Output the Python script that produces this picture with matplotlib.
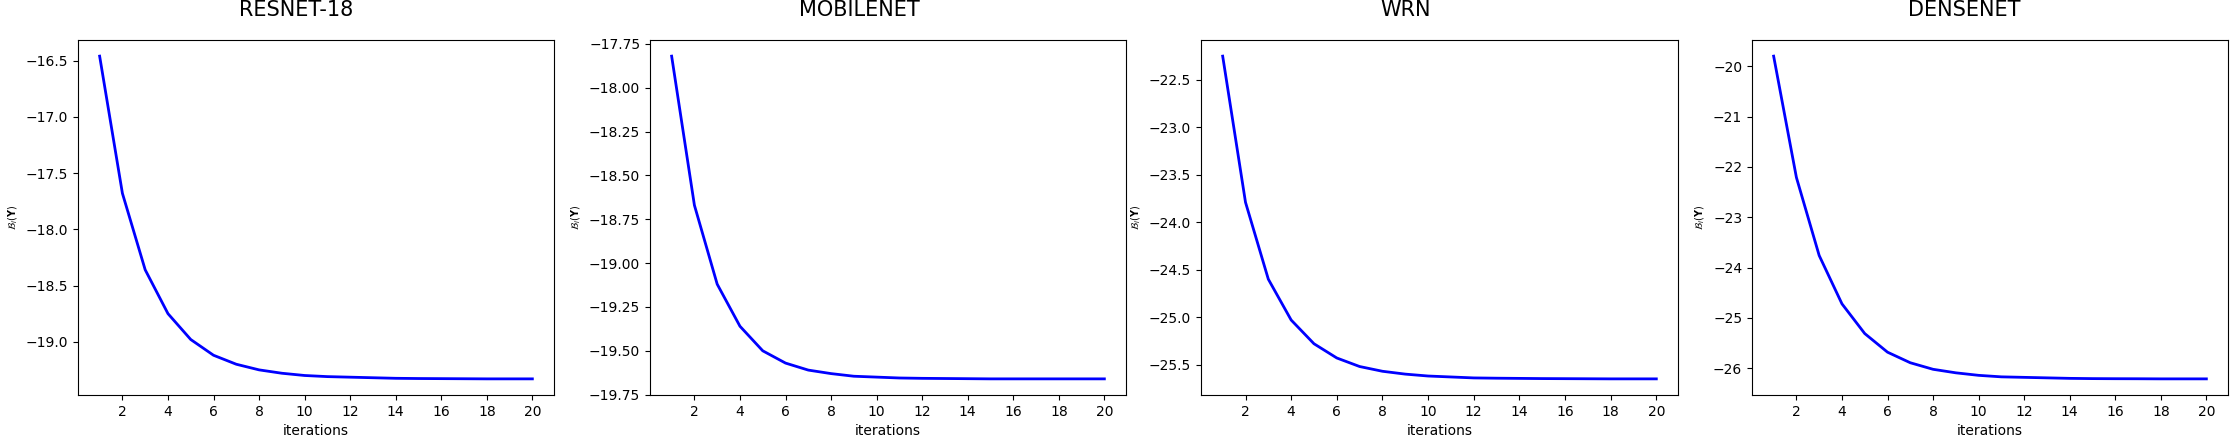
import matplotlib.pyplot as plt

# === Data
iterations = list(range(1, 21))
titles = ["RESNET-18", "MOBILENET", "WRN", "DENSENET"]

resnet18 = [-16.46, -17.68, -18.36, -18.75, -18.98, -19.12, -19.20, -19.25, -19.28, -19.30,
            -19.31, -19.315, -19.32, -19.325, -19.327, -19.328, -19.329, -19.33, -19.33, -19.33]
mobilenet = [-17.82, -18.67, -19.12, -19.36, -19.50, -19.57, -19.61, -19.63, -19.645, -19.65,
             -19.655, -19.657, -19.658, -19.659, -19.66, -19.66, -19.66, -19.66, -19.66, -19.66]
wrn = [-22.25, -23.79, -24.60, -25.03, -25.28, -25.43, -25.52, -25.57, -25.60, -25.62,
       -25.63, -25.64, -25.643, -25.645, -25.647, -25.648, -25.649, -25.65, -25.65, -25.65]
densenet = [-19.80, -22.21, -23.76, -24.72, -25.31, -25.68, -25.89, -26.02, -26.09, -26.14,
            -26.17, -26.18, -26.19, -26.20, -26.205, -26.207, -26.208, -26.21, -26.21, -26.21]
series = [resnet18, mobilenet, wrn, densenet]

# === Layout (pixels)
W, H = 2238, 445
boxes = [(78, 554), (650, 1126), (1201, 1678), (1752, 2228)]
title_x = [296, 859, 1406, 1964]
top, bottom = 40, 395

fig = plt.figure(figsize=(W / 100, H / 100), dpi=100)
for (x0, x1), tx, title, vals in zip(boxes, title_x, titles, series):
    ax = fig.add_axes([x0 / W, 1 - bottom / H, (x1 - x0) / W, (bottom - top) / H])
    ax.plot(iterations, vals, color="blue", linewidth=2)
    ax.set_title(title, fontsize=15, pad=17, x=(tx - x0) / (x1 - x0))
    ax.set_xlabel("iterations", fontsize=10)
    ax.set_ylabel(r"$\mathcal{B}_i(\mathbf{Y})$", fontsize=7)
    ax.set_xticks(range(2, 21, 2))
    ax.tick_params(labelsize=10)

plt.savefig("out.png", dpi=100)
